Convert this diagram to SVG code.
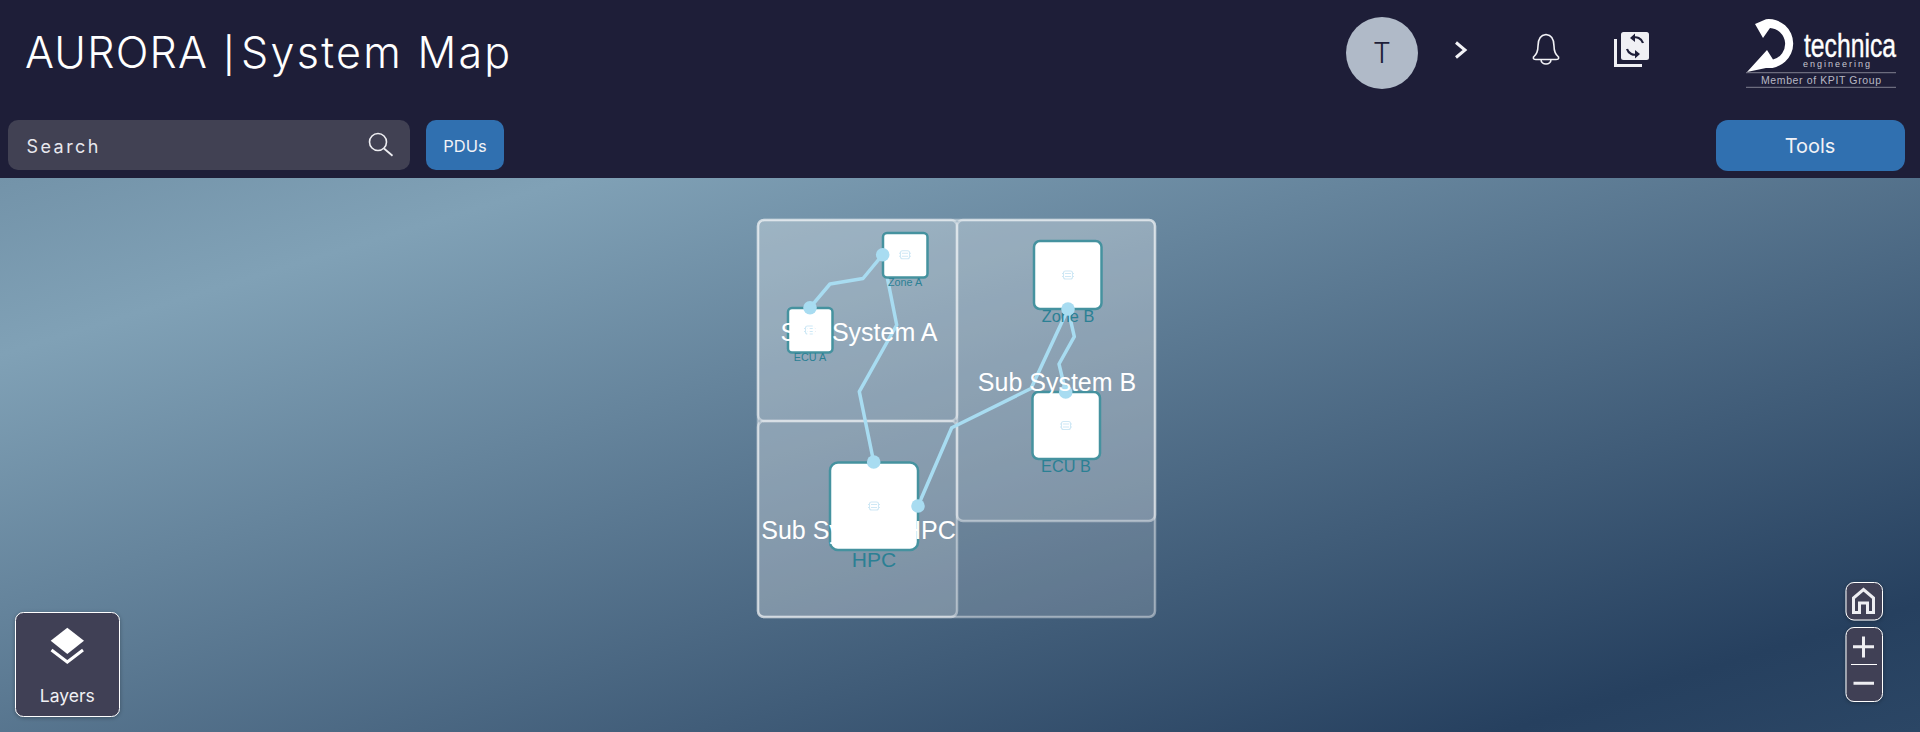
<svg xmlns="http://www.w3.org/2000/svg" width="1920" height="732" viewBox="0 0 1920 732">
<style>
.ui{font-family:"Inter","Liberation Sans",sans-serif}
.g{font-family:"Liberation Sans",Arial,sans-serif;font-size:25px;fill:#fff;text-anchor:middle}
.lb{font-family:"Liberation Sans",Arial,sans-serif;fill:#2b8094;text-anchor:middle}
.grp{fill:#fff;fill-opacity:.16;stroke:#fff;stroke-opacity:.42;stroke-width:2.5}
.box{fill:#fff;stroke:#45929f;stroke-width:2.5}
.edge{fill:none;stroke:#a8dcf1;stroke-width:3.5;stroke-linejoin:round}
.dot{fill:#a8dcf1}
.chip{fill:none;stroke:#cfe8f5;stroke-width:1.1}
.btn{fill:#3070b0}
.ctl{fill:#404055;stroke:#fff;stroke-width:1;filter:url(#sh)}
.ic{fill:none;stroke:#eeeef2;stroke-width:3}
</style>
<defs>
<linearGradient id="bg" gradientUnits="userSpaceOnUse" x1="-50" y1="193" x2="271" y2="1238">
<stop offset="0" stop-color="#7393a9"/>
<stop offset=".155" stop-color="#80a1b6"/>
<stop offset=".888" stop-color="#26405f"/>
<stop offset="1" stop-color="#2b4665"/>
</linearGradient>
<filter id="sh" x="-20%" y="-20%" width="140%" height="140%"><feDropShadow dx="0" dy="1" stdDeviation="2" flood-color="#000" flood-opacity=".3"/></filter>
<g id="chipIcon"><rect class="chip" x="-4.500" y="-4" width="9" height="8" rx="2"/><path class="chip" d="M-3-1.500H3M-3 1.500H3M-6-1.500H-4.500M-6 1.500H-4.500M4.500-1.500H6M4.500 1.500H6"/></g>
</defs>
<rect id="canvas" x="0" y="178" width="1920" height="554" fill="url(#bg)"/>
<g id="header">
<rect x="0" y="0" width="1920" height="178" fill="#1e1e38"/>
<text class="ui" y="68" font-size="43" font-weight="300" fill="#fff" letter-spacing="1.200"><tspan x="25">AURORA</tspan> <tspan x="223" font-size="35" font-weight="400">|</tspan> <tspan x="241" letter-spacing="2.300">System Map</tspan></text>
<g id="search"><rect x="8" y="120" width="402" height="50" rx="10" fill="#414153"/>
<text class="ui" x="26.500" y="152.500" font-size="18" fill="#e8e8ee" textLength="72" lengthAdjust="spacing">Search</text>
<circle cx="378" cy="142" r="8.500" fill="none" stroke="#eeeef2" stroke-width="1.600"/><path d="M384 148.500L392.500 155.700" stroke="#eeeef2" stroke-width="1.800" fill="none"/></g>
<g id="pdus"><rect class="btn" x="426" y="120" width="78" height="50" rx="10"/>
<text class="ui" x="465" y="152" font-size="16.500" fill="#f2f2f6" text-anchor="middle">PDUs</text></g>
<g id="tools"><rect class="btn" x="1716" y="120" width="189" height="51" rx="12"/>
<text class="ui" x="1810" y="153" font-size="20" fill="#f2f2f6" text-anchor="middle">Tools</text></g>
<g id="avatar"><circle cx="1382" cy="53" r="36" fill="#b0bac8"/>
<text class="ui" x="1382" y="63" font-size="28" font-weight="300" fill="#1e1e38" text-anchor="middle">T</text></g>
<path id="chevron" d="M1456 42.500L1465 50L1456 57.500" fill="none" stroke="#f2f2f6" stroke-width="3"/>
<path id="bell" d="M1546 34.500C1540 35 1538 40 1538 46C1538 52 1536 55 1533.500 57C1533 59 1534 59.500 1536 59.500H1556C1558 59.500 1559 59 1558.500 57C1556 55 1554 52 1554 46C1554 40 1552 35 1546 34.500ZM1541 59.500C1541 65.500 1551 65.500 1551 59.500" fill="none" stroke="#f2f2f6" stroke-width="1.600"/>
<g id="sync"><path d="M1615.500 39V65.500H1642" fill="none" stroke="#f0f0f4" stroke-width="3"/>
<rect x="1621" y="32" width="28" height="28" rx="2.500" fill="#f0f0f4"/>
<path d="M1643 43A8 8 0 0 0 1632 38M1627 49A8 8 0 0 0 1638 54" fill="none" stroke="#1e1e38" stroke-width="2.200"/>
<path d="M1635 33.500V42L1630 38ZM1635 50V58.500L1640 54Z" fill="#1e1e38"/></g>
<g id="logo">
<path d="M1755 24L1766 19.200A24.500 24.500 0 1 1 1766 67.900L1747 72L1767 50L1773 59.500A16 16 0 0 0 1770 28L1763 38Z" fill="#fff"/>
<path d="M1783 20L1787 25" stroke="#1e1e38" stroke-width="1"/>
<text transform="translate(1804 57) scale(.727 1)" font-family="Liberation Sans,sans-serif" font-size="34" fill="#fff" stroke="#fff" stroke-width=".4">technica</text>
<text x="1803" y="66.500" font-family="Liberation Sans,sans-serif" font-size="9" fill="#c8c8d0" textLength="67" lengthAdjust="spacing">engineering</text>
<path d="M1746 72.700H1896M1746 87.300H1896" stroke="#6c6c7e" stroke-width="1.200"/>
<text x="1761" y="84" font-family="Liberation Sans,sans-serif" font-size="10.500" fill="#b8b8c4" textLength="120" lengthAdjust="spacing">Member of KPIT Group</text>
</g>
</g>
<g id="subsystems">
<rect id="group-outer" class="grp" x="758" y="220" width="397" height="397" rx="6"/>
<rect id="group-a" class="grp" x="758" y="220" width="199" height="201" rx="6"/>
<rect id="group-b" class="grp" x="957" y="220" width="198" height="301" rx="6"/>
<rect id="group-hpc" class="grp" x="758" y="421" width="199" height="196" rx="6"/>
</g>
<g id="connectors">
<path class="edge" d="M810 307.700L830 284L863 278.500L882.700 254.700"/>
<path class="edge" d="M882.700 254.700L896.700 325L859.300 391.700L873.700 462"/>
<path class="edge" d="M918 506L951.700 427.700L1031 388.500L1068 309"/>
<path class="edge" d="M1068 309L1074.300 336.700L1059 364L1065.700 392"/>
</g>
<g id="node-zone-a"><rect class="box" x="883" y="233" width="44.500" height="44.500" rx="4"/><use href="#chipIcon" x="905" y="254.700"/><text class="lb" x="905" y="286" font-size="10.800">Zone A</text></g>
<g id="node-ecu-a"><rect class="box" x="788" y="308" width="44.500" height="44.500" rx="4"/><use href="#chipIcon" x="810" y="330"/><text class="lb" x="810" y="360.700" font-size="10.800">ECU A</text></g>
<g id="node-zone-b"><rect class="box" x="1034" y="241" width="67.500" height="68" rx="6"/><use href="#chipIcon" x="1068" y="275"/><text class="lb" x="1068" y="322" font-size="16.300">Zone B</text></g>
<g id="node-ecu-b"><rect class="box" x="1032.500" y="392" width="67.500" height="67" rx="6"/><use href="#chipIcon" x="1066" y="425.500"/><text class="lb" x="1066" y="472" font-size="16.300">ECU B</text></g>
<g id="node-hpc"><rect class="box" x="830" y="462.500" width="88" height="87.500" rx="8"/><use href="#chipIcon" x="874" y="506"/><text class="lb" x="874" y="566.700" font-size="21">HPC</text></g>
<g id="ports">
<circle class="dot" cx="810" cy="307.700" r="6.800"/><circle class="dot" cx="882.700" cy="254.700" r="6.800"/>
<circle class="dot" cx="1068" cy="309" r="6.800"/><circle class="dot" cx="1065.700" cy="392" r="6.800"/>
<circle class="dot" cx="873.700" cy="462" r="6.800"/><circle class="dot" cx="918" cy="506" r="6.800"/>
</g>
<g id="group-labels">
<text class="g" x="859" y="341">Sub System A</text>
<text class="g" x="1057" y="391">Sub System B</text>
<text class="g" x="858.500" y="539">Sub System HPC</text>
</g>
<g id="layers"><rect class="ctl" x="15.500" y="612.500" width="104" height="104" rx="8"/>
<path d="M67.300 627.700L84 640.700L67.300 654L50.700 640.700Z" fill="#fff"/>
<path d="M51.500 650L67.300 662L83 650" fill="none" stroke="#fff" stroke-width="3"/>
<text class="ui" x="67.300" y="701.500" font-size="17.500" fill="#f0f0f4" text-anchor="middle">Layers</text></g>
<g id="home"><rect class="ctl" x="1846" y="582.500" width="36.500" height="37.500" rx="8"/>
<path class="ic" d="M1853.500 612.500V598L1863.500 589.500L1873.500 598V612.500H1867.500V603H1859.500V612.500Z" stroke="#e4e4e8"/></g>
<g id="zoom"><rect class="ctl" x="1846" y="627.500" width="36.500" height="74" rx="8"/>
<path class="ic" d="M1853 646.700H1874M1863.500 636.500V657.500M1853.500 683.300H1874"/>
<path d="M1851 664.500H1877" stroke="#fff" stroke-width="1"/></g>
</svg>
